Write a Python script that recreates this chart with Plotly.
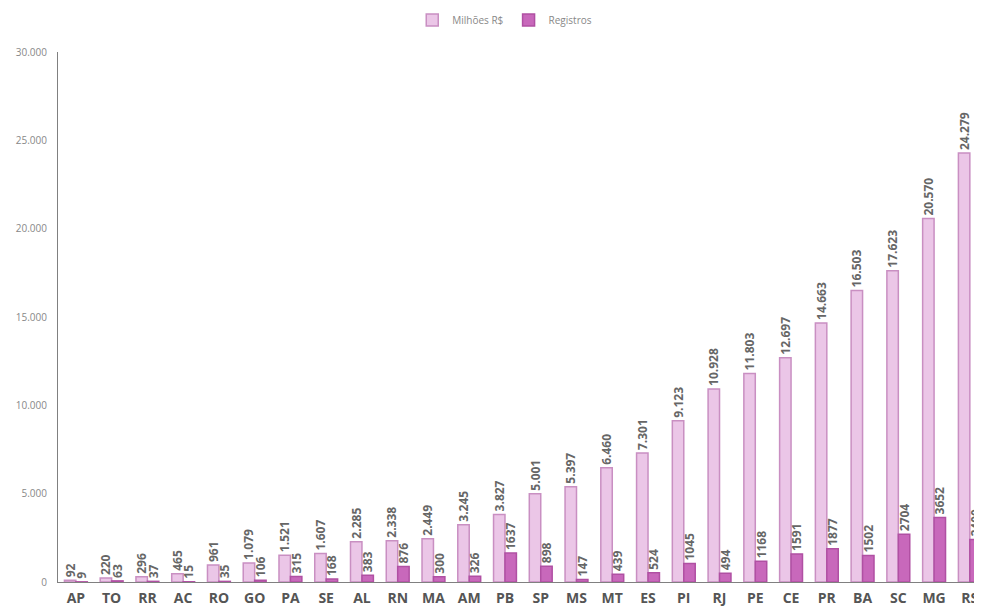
import plotly.graph_objects as go

estados = ["AP", "TO", "RR", "AC", "RO", "GO", "PA", "SE", "AL", "RN", "MA", "AM", "PB",
           "SP", "MS", "MT", "ES", "PI", "RJ", "PE", "CE", "PR", "BA", "SC", "MG", "RS"]
milhoes = [92, 220, 296, 465, 961, 1079, 1521, 1607, 2285, 2338, 2449, 3245, 3827,
           5001, 5397, 6460, 7301, 9123, 10928, 11803, 12697, 14663, 16503, 17623, 20570, 24279]
registros = [9, 63, 37, 15, 35, 106, 315, 168, 383, 876, 300, 326, 1637,
             898, 147, 439, 524, 1045, 494, 1168, 1591, 1877, 1502, 2704, 3652, 2400]
y_ticks = [0, 5000, 10000, 15000, 20000, 25000, 30000]

label_font = dict(family="Open Sans, DejaVu Sans", size=12, color="#666666")

fig = go.Figure()
fig.add_trace(go.Bar(
    x=estados, y=milhoes, name="Milhões R$",
    marker=dict(color="#ebc6e7", line=dict(color="#c98fc2", width=1.5)),
    texttemplate="<b>%{y:,d}</b>", textposition="outside", textangle=-90,
    textfont=label_font, cliponaxis=True, constraintext="none",
))
fig.add_trace(go.Bar(
    x=estados, y=registros, name="Registros",
    marker=dict(color="#c868bb", line=dict(color="#b050a3", width=1.5)),
    texttemplate="<b>%{y:d}</b>", textposition="outside", textangle=-90,
    textfont=label_font, cliponaxis=True, constraintext="none",
))

fig.update_layout(
    width=974, height=604,
    margin=dict(l=50, r=0, t=44, b=30, autoexpand=False),
    paper_bgcolor="white", plot_bgcolor="white",
    barmode="group", bargap=0.36, bargroupgap=0.0,
    separators=",.",
    showlegend=True,
    legend=dict(orientation="h", xref="container", yref="container",
                x=0.51, xanchor="center", y=0.98, yanchor="middle",
                font=dict(family="Open Sans, DejaVu Sans", size=10, color="#888888"),
                itemwidth=30),
    xaxis=dict(range=[-0.5, 25.34], showline=True, linecolor="#808080", linewidth=1,
               ticks="", showgrid=False, automargin=False, ticklabelstandoff=3,
               tickfont=dict(family="Open Sans, DejaVu Sans", size=14, color="#555555", weight="bold")),
    yaxis=dict(range=[0, 30000], tickvals=y_ticks, tickformat=",d", showline=True,
               linecolor="#808080", linewidth=1, showgrid=False, zeroline=False, ticks="",
               automargin=False, ticklabelstandoff=8,
               tickfont=dict(family="Open Sans, DejaVu Sans", size=10, color="#888888")),
)

fig.write_html("out.html")
